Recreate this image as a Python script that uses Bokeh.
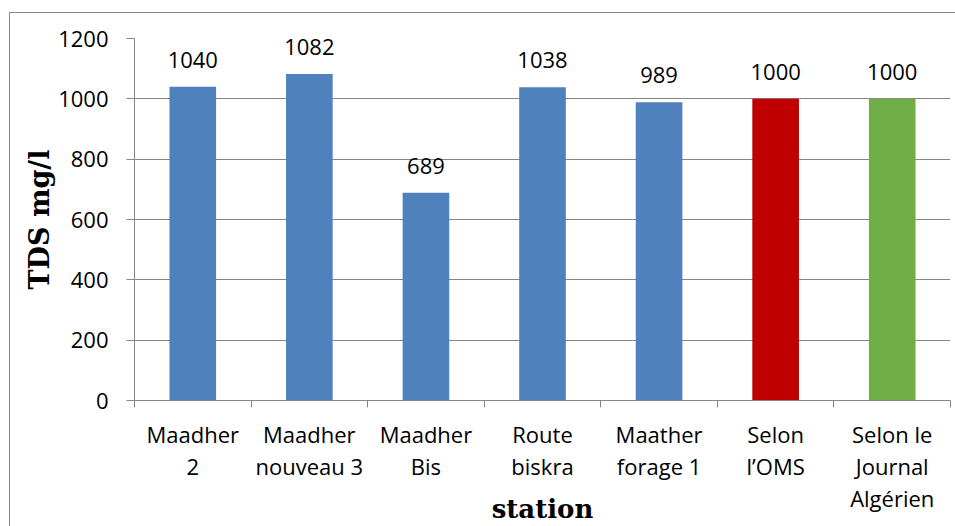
from bokeh.plotting import figure
from bokeh.models import ColumnDataSource, Range1d, FixedTicker, LabelSet, InlineStyleSheet
from bokeh.core.properties import value
from bokeh.embed import file_html
from bokeh.resources import INLINE

stations = ["Maadher\n2", "Maadher\nnouveau 3", "Maadher\nBis", "Route\nbiskra",
            "Maather\nforage 1", "Selon\nl\u2019OMS", "Selon le\nJournal\nAlg\u00e9rien"]
tds = [1040, 1082, 689, 1038, 989, 1000, 1000]
bar_colors = ["#4F81BD", "#4F81BD", "#4F81BD", "#4F81BD", "#4F81BD", "#C00000", "#70AD47"]
y_ticks = [0, 200, 400, 600, 800, 1000, 1200]

n = len(stations)
xs = list(range(1, n + 1))
src = ColumnDataSource(dict(x=xs, tds=tds, color=bar_colors, label=[str(v) for v in tds]))

GRAY = "#868686"
SANS = "Open Sans"
SERIF = "DejaVu Serif"

W, H = 955, 526
FL, FT, FR, FB = 134, 38, 950, 400

p = figure(width=W, height=H, x_range=Range1d(0.5, n + 0.5), y_range=Range1d(0, 1200),
           output_backend="svg", toolbar_location=None,
           min_border_left=FL, min_border_right=W - FR, min_border_top=FT,
           min_border_bottom=H - FB)
p.outline_line_color = None
p.background_fill_color = "white"
p.border_fill_color = "white"

# outer chart border: only its top and left edges fall inside the picture
p.stylesheets = [InlineStyleSheet(css=(
    ":host { position: relative; }\n"
    ":host::after { content: ''; position: absolute; left: 9px; top: 12px; right: 0; bottom: 0;"
    " border-top: 1px solid #8a8a8a; border-left: 1px solid #8a8a8a;"
    " pointer-events: none; z-index: 100; }"
))]

p.vbar(x="x", top="tds", width=0.4, fill_color="color", line_color=None, source=src)

labels = LabelSet(x="x", y="tds", text="label", source=src, text_align="center",
                  text_baseline="alphabetic", y_offset=19, text_font=value(SANS),
                  text_font_size=value("22px"), text_color="black")
p.add_layout(labels)

# x axis
xa = p.xaxis[0]
xa.ticker = FixedTicker(ticks=xs, minor_ticks=[i + 0.5 for i in range(0, n + 1)])
xa.major_label_overrides = {x: s for x, s in zip(xs, stations)}
xa.major_tick_line_color = None
xa.major_tick_out = 7
xa.major_tick_in = 0
xa.minor_tick_line_color = GRAY
xa.minor_tick_out = 7
xa.minor_tick_in = 0
xa.axis_line_color = GRAY
xa.major_label_text_font = SANS
xa.major_label_text_font_size = "22px"
xa.major_label_text_color = "black"
xa.major_label_text_line_height = 1.07
xa.major_label_standoff = 11
xa.axis_label = "station"
xa.axis_label_text_font = SERIF
xa.axis_label_text_font_style = "bold"
xa.axis_label_text_font_size = "26px"
xa.axis_label_text_color = "black"
xa.axis_label_standoff = -22

# y axis
ya = p.yaxis[0]
ya.ticker = FixedTicker(ticks=y_ticks)
ya.minor_tick_line_color = None
ya.major_tick_line_color = GRAY
ya.major_tick_out = 8
ya.major_tick_in = 0
ya.axis_line_color = GRAY
ya.major_label_text_font = SANS
ya.major_label_text_font_size = "22px"
ya.major_label_text_color = "black"
ya.major_label_standoff = 18
ya.axis_label = "TDS mg/l"
ya.axis_label_text_font = SERIF
ya.axis_label_text_font_style = "bold"
ya.axis_label_text_font_size = "27px"
ya.axis_label_text_color = "black"
ya.axis_label_standoff = 0

p.xgrid.visible = False
p.ygrid.grid_line_color = GRAY
p.ygrid.grid_line_width = 1

open("out.html", "w").write(file_html(p, INLINE))
